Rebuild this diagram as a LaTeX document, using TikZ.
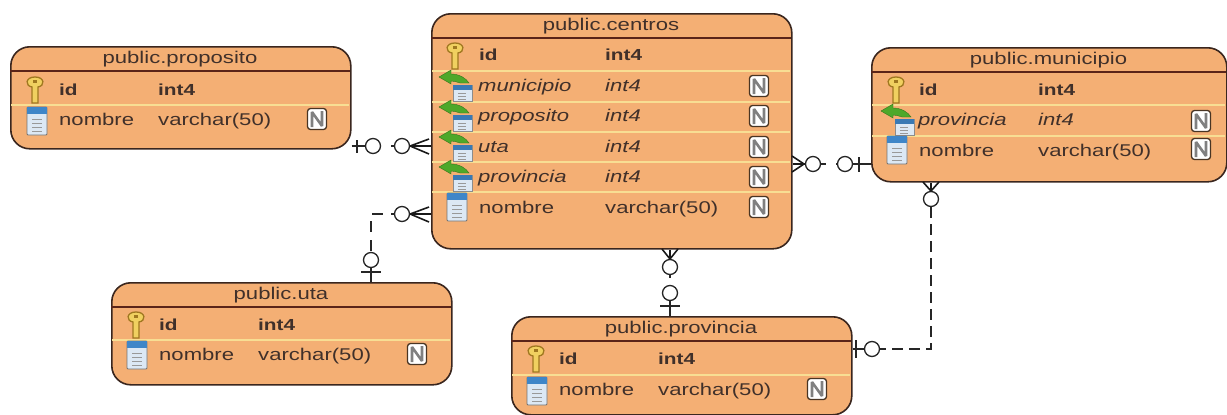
\documentclass[tikz,border=0pt]{standalone}
\usepackage{fontspec}
\setmainfont[FakeStretch=1.3]{Liberation Sans}
\definecolor{tfill}{HTML}{F4AF74}
\definecolor{tedge}{HTML}{3A261E}
\definecolor{thead}{HTML}{5A2418}
\definecolor{trow}{HTML}{F8DE93}
\definecolor{ttext}{HTML}{40302A}
\definecolor{keyfill}{HTML}{F0D060}
\definecolor{keyedge}{HTML}{A07820}
\definecolor{tabblue}{HTML}{3F86C8}
\definecolor{tabbody}{HTML}{DCE8F4}
\definecolor{fkgreen}{HTML}{4EA82A}
\tikzset{
  tablebox/.style={draw=tedge,line width=1.6pt,fill=tfill,rounded corners=19pt,inner sep=0pt,anchor=north west},
  headtext/.style={text=ttext,font=\fontsize{17}{18}\selectfont,inner sep=0pt,anchor=center},
  rowtext/.style={text=ttext,font=\fontsize{17}{18}\selectfont,inner sep=0pt,anchor=base west},
  boldtext/.style={rowtext,font=\fontsize{16}{18}\selectfont\bfseries},
  fktext/.style={rowtext,font=\fontsize{17}{18}\selectfont\itshape},
  ring/.style={circle,draw=black!85,line width=1.3pt,fill=white,minimum size=15pt,inner sep=0pt},
  stub/.style={draw=black!85,line width=1.3pt},
  crow/.style={draw=black!90,line width=1.6pt},
  link/.style={draw=black!85,line width=1.5pt},
}
\newcommand{\tablebody}[6]{% name,x,y,w,h,title
  \node[tablebox,minimum width=#4pt,minimum height=#5pt] (#1) at (#2,#3) {};
  \draw[thead,line width=1.3pt] (#2,#3+25) -- (#2+#4,#3+25);
  \node[headtext] (#1title) at (#2+#4/2,#3+13) {#6};
}
\newcommand{\rowline}[3]{\draw[trow,line width=1.3pt] (#1+1,#3) -- (#1+#2-1,#3);}
\newcommand{\iconkey}[2]{%
  \begin{scope}[shift={(#1,#2)}]
    \fill[draw=keyedge,line width=1.3pt,fill=keyfill] (-3,-2) -- (-3,-3) .. controls (-10,-4) and (-10,-13) .. (0,-13) .. controls (10,-13) and (10,-4) .. (3,-3) -- (3,13) -- (-3,13) -- cycle;
    \fill[keyedge] (-2,-10) rectangle (2,-7);
  \end{scope}}
\newcommand{\icontab}[2]{%
  \begin{scope}[shift={(#1,#2)}]
    \fill[draw=black!55,line width=.8pt,fill=tabbody,rounded corners=1pt] (-10,-14) rectangle (10,14);
    \fill[tabblue] (-10,-14) rectangle (10,-7);
    \foreach \q in {-2,2,6,10}{\draw[black!40,line width=.8pt] (-5,\q) -- (5,\q);}
  \end{scope}}
\newcommand{\iconfk}[2]{%
  \begin{scope}[shift={(#1,#2)}]
    \fill[draw=black!45,line width=.5pt,fill=tabbody] (-9,-7) rectangle (10,9);
    \fill[tabblue!90!black] (-9,-7) rectangle (10,-2);
    \foreach \q in {1,4,7}{\draw[black!40,line width=.7pt] (-4,\q) -- (4,\q);}
    \fill[fkgreen,draw=fkgreen!70!black,line width=.4pt] (-23,-15) -- (-11,-22) -- (-11,-18) .. controls (-3,-18) and (4,-14) .. (7,-9) -- (-2,-9) .. controls (-5,-10) and (-8,-11) .. (-11,-11) -- (-11,-8) -- cycle;
  \end{scope}}
\newcommand{\badge}[2]{%
  \begin{scope}[shift={(#1,#2)}]
    \draw[black!70!tfill,line width=1.3pt,fill=white,rounded corners=3pt] (-9.5,-10.5) rectangle (9.5,10.5);
    \draw[black!50,line width=2.6pt,line join=bevel] (-5,8) -- (-5,-7) -- (5,7) -- (5,-8);
  \end{scope}}
\begin{document}
\begin{tikzpicture}[x=1pt,y=-1pt]
\useasboundingbox (0,0) rectangle (1227,415);
\fill[white] (0,0) rectangle (1227,415);
% ---------- tables
\tablebody{prop}{10}{46}{340}{102}{public.proposito}
\rowline{10}{340}{105}
\iconkey{35}{90}\node[boldtext] (propa) at (59,95) {id};\node[boldtext] (propb) at (158,95) {int4};
\icontab{37}{121}\node[rowtext] (propc) at (59,125) {nombre};\node[rowtext] (propd) at (158,125) {varchar(50)};\badge{317}{119}

\tablebody{cen}{431}{13}{360}{235}{public.centros}
\foreach \yy in {71,102,132,162,192}{\rowline{431}{360}{\yy}}
\iconkey{455}{56}\node[boldtext] (cena) at (479,60) {id};\node[boldtext] (cenb) at (605,60) {int4};
\iconfk{462}{92}\node[fktext] (cenc) at (478,91) {municipio};\node[fktext] (cend) at (605,91) {int4};\badge{759}{86}
\iconfk{462}{122}\node[fktext] (cene) at (478,121) {proposito};\node[fktext] (cenf) at (605,121) {int4};\badge{759}{116}
\iconfk{462}{152}\node[fktext] (ceng) at (478,152) {uta};\node[fktext] (cenh) at (605,152) {int4};\badge{759}{147}
\iconfk{462}{182}\node[fktext] (ceni) at (478,182) {provincia};\node[fktext] (cenj) at (605,182) {int4};\badge{759}{177}
\icontab{457}{207}\node[rowtext] (cenk) at (479,213) {nombre};\node[rowtext] (cenl) at (605,213) {varchar(50)};\badge{759}{207}

\tablebody{mun}{871}{47}{355}{134}{public.municipio}
\foreach \yy in {105,136}{\rowline{871}{355}{\yy}}
\iconkey{896}{90}\node[boldtext] (muna) at (919,95) {id};\node[boldtext] (munb) at (1038,95) {int4};
\iconfk{904}{126}\node[fktext] (munc) at (918,125) {provincia};\node[fktext] (mund) at (1038,125) {int4};\badge{1201}{121}
\icontab{897}{150}\node[rowtext] (mune) at (919,156) {nombre};\node[rowtext] (munf) at (1038,156) {varchar(50)};\badge{1201}{149}

\tablebody{uta}{111}{282}{340}{102}{public.uta}
\rowline{111}{340}{340}
\iconkey{136}{325}\node[boldtext] (utaa) at (159,330) {id};\node[boldtext] (utab) at (258,330) {int4};
\icontab{137}{355}\node[rowtext] (utac) at (159,360) {nombre};\node[rowtext] (utad) at (258,360) {varchar(50)};\badge{417}{354}

\tablebody{prv}{511}{316}{340}{98}{public.provincia}
\rowline{511}{340}{375}
\iconkey{536}{359}\node[boldtext] (prva) at (559,364) {id};\node[boldtext] (prvb) at (658,364) {int4};
\icontab{537}{391}\node[rowtext] (prvc) at (559,395) {nombre};\node[rowtext] (prvd) at (658,395) {varchar(50)};\badge{817}{389}

% ---------- connectors
% proposito - centros
\node[ring] (r1a) at (373,146) {};
\node[ring] (r1b) at (402,146) {};
\draw[link,dash pattern=on 10pt off 10pt,dash phase=10pt] (r1a) -- (r1b);
\draw[stub] (prop.east |- r1a) -- (r1a.west);
\draw[stub] (357,140) -- (357,153);
\draw[crow] (r1b.east) -- (cen.west |- r1b);
\draw[crow] (r1b.east) -- (429,139) (r1b.east) -- (429,154);
% uta - centros
\node[ring] (r2a) at (371,260) {};
\node[ring] (r2b) at (402,214) {};
\coordinate (r2c) at (371,214);
\draw[link,dash pattern=on 11pt off 8pt,dash phase=8pt] (r2b) -- (r2c) -- (r2a);
\draw[stub] (r2a.south) -- (uta.north -| r2a);
\draw[stub] (361,272) -- (381,272);
\draw[crow] (r2b.east) -- (cen.west |- r2b);
\draw[crow] (r2b.east) -- (429,207) (r2b.east) -- (429,222);
% centros - municipio
\node[ring] (r3a) at (813,164) {};
\node[ring] (r3b) at (845,164) {};
\draw[link,dash pattern=on 10pt off 10pt,dash phase=5pt] (r3a) -- (r3b);
\draw[stub] (r3b.east) -- (mun.west |- r3b);
\draw[stub] (859,157) -- (859,172);
\draw[crow] (r3a.west) -- (cen.east |- r3a);
\draw[crow] (804,164) -- (792,156) (804,164) -- (792,172);
% municipio - provincia
\node[ring] (r4a) at (931,199) {};
\node[ring] (r4b) at (872,349) {};
\coordinate (r4c) at (931,349);
\draw[link,dash pattern=on 11pt off 6pt] (r4a) -- (r4c) -- (r4b);
\draw[stub] (r4b.west) -- (prv.east |- r4b);
\draw[stub] (856,340) -- (856,358);
\draw[crow] (r4a.north) -- (mun.south -| r4a);
\draw[crow] (931,191) -- (923,182) (931,191) -- (939,182);
% centros - provincia
\node[ring] (r5a) at (670,267) {};
\node[ring] (r5b) at (670,293) {};
\draw[link,dash pattern=on 10pt off 10pt,dash phase=7pt] (r5a) -- (r5b);
\draw[stub] (r5b.south) -- (prv.north -| r5b);
\draw[stub] (660,306) -- (680,306);
\draw[crow] (r5a.north) -- (cen.south -| r5a);
\draw[crow] (670,259) -- (662,249) (670,259) -- (678,249);
\end{tikzpicture}
\end{document}
